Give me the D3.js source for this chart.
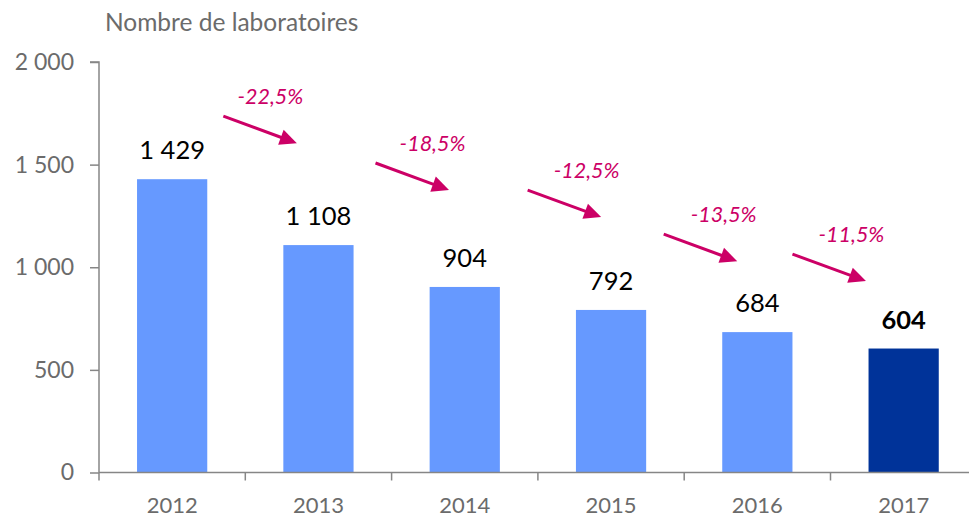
<!DOCTYPE html>
<html>
<head>
<meta charset="utf-8">
<script src="https://cdn.jsdelivr.net/npm/d3@7"></script>
<style>
  body { margin: 0; background: #fff; }
  svg text { font-family: Lato, 'Open Sans', sans-serif; }
</style>
</head>
<body>
<svg id="viz"></svg>
<script>
const years = ['2012', '2013', '2014', '2015', '2016', '2017'];
const labs = [1429, 1108, 904, 792, 684, 604];
const changes = ['-22,5%', '-18,5%', '-12,5%', '-13,5%', '-11,5%'];
const yTicks = [0, 500, 1000, 1500, 2000];

// where each arrow starts: fraction of a band after the year, and height in units
const arrowFrac = [0.85, 0.89, 0.93, 0.86, 0.74];
const arrowLevel = [1736, 1508, 1376, 1161, 1064];
const labelShift = [47, 57, 59, 60, 59];

const width = 969;
const height = 516;
const margin = { top: 62, right: 0, bottom: 43.5, left: 99 };
const step = 146.3;

const fmt = (v) => d3.format(',')(v).replace(/,/g, ' ');

const svg = d3.select('#viz').attr('width', width).attr('height', height);

const x = d3
  .scaleBand()
  .domain(years)
  .range([margin.left, margin.left + step * years.length])
  .paddingInner(0.52)
  .paddingOuter(0.26);

const y = d3
  .scaleLinear()
  .domain([0, 2000])
  .range([height - margin.bottom, margin.top]);

const axisColor = '#868686';
const textColor = '#6b6b6b';

// title
svg
  .append('text')
  .attr('x', 105)
  .attr('y', 31)
  .attr('fill', textColor)
  .style('font-size', '24.5px')
  .text('Nombre de laboratoires');

// y axis
const yAxis = svg
  .append('g')
  .attr('transform', 'translate(' + margin.left + ',0)')
  .call(d3.axisLeft(y).tickValues(yTicks).tickSize(9).tickPadding(16).tickFormat(fmt));
yAxis.select('.domain').attr('stroke', axisColor).attr('stroke-width', 1.5).attr('d', 'M-9,' + y(2000) + 'H0V' + y(0));
yAxis.selectAll('.tick line').attr('stroke', axisColor).attr('stroke-width', 1.5);
yAxis.selectAll('.tick text').attr('fill', textColor).style('font-size', '23px').style('font-family', 'Lato, sans-serif');

// bars
svg
  .append('g')
  .selectAll('rect')
  .data(labs)
  .join('rect')
  .attr('x', (d, i) => x(years[i]))
  .attr('width', x.bandwidth())
  .attr('y', (d) => y(d))
  .attr('height', (d) => y(0) - y(d))
  .attr('fill', (d, i) => (i === labs.length - 1 ? '#003399' : '#6699FF'));

// value labels
svg
  .append('g')
  .selectAll('text')
  .data(labs)
  .join('text')
  .attr('x', (d, i) => x(years[i]) + x.bandwidth() / 2)
  .attr('y', (d) => y(d) - 20)
  .attr('text-anchor', 'middle')
  .attr('fill', '#000')
  .style('font-size', '25.5px')
  .style('font-weight', (d, i) => (i === labs.length - 1 ? 'bold' : 'normal'))
  .text(fmt);

// x axis
const xAxisY = y(0);
svg
  .append('line')
  .attr('x1', margin.left)
  .attr('x2', width)
  .attr('y1', xAxisY)
  .attr('y2', xAxisY)
  .attr('stroke', axisColor)
  .attr('stroke-width', 1.5);

svg
  .append('g')
  .selectAll('line')
  .data(years)
  .join('line')
  .attr('x1', (d) => x(d) - x.step() * 0.26)
  .attr('x2', (d) => x(d) - x.step() * 0.26)
  .attr('y1', xAxisY)
  .attr('y2', xAxisY + 8)
  .attr('stroke', axisColor)
  .attr('stroke-width', 1.5);

svg
  .append('g')
  .selectAll('text')
  .data(years)
  .join('text')
  .attr('x', (d) => x(d) + x.bandwidth() / 2)
  .attr('y', xAxisY + 40)
  .attr('text-anchor', 'middle')
  .attr('fill', textColor)
  .style('font-size', '22px')
  .text((d) => d);

// change arrows
const pink = '#CC0066';
const arrows = changes.map((c, i) => {
  const x0 = x(years[i]) - x.step() * 0.26 + arrowFrac[i] * x.step();
  const y0 = y(arrowLevel[i]);
  return { label: c, shift: labelShift[i], x0: x0, y0: y0, x1: x0 + 73.5, y1: y0 + 27 };
});

const arrowG = svg.append('g').selectAll('g').data(arrows).join('g');

arrowG.each(function (d) {
  const g = d3.select(this);
  const ang = Math.atan2(d.y1 - d.y0, d.x1 - d.x0);
  const headLen = 17;
  const headW = 8;
  const bx = d.x1 - headLen * Math.cos(ang);
  const by = d.y1 - headLen * Math.sin(ang);
  g.append('line')
    .attr('x1', d.x0)
    .attr('y1', d.y0)
    .attr('x2', bx + 2 * Math.cos(ang))
    .attr('y2', by + 2 * Math.sin(ang))
    .attr('stroke', pink)
    .attr('stroke-width', 3);
  const px = -Math.sin(ang);
  const py = Math.cos(ang);
  g.append('path')
    .attr('d', 'M' + d.x1 + ',' + d.y1 +
      'L' + (bx + px * headW) + ',' + (by + py * headW) +
      'L' + (bx - px * headW) + ',' + (by - py * headW) + 'Z')
    .attr('fill', pink);
  g.append('text')
    .attr('x', d.x0 + d.shift)
    .attr('y', d.y0 - 12)
    .attr('text-anchor', 'middle')
    .attr('fill', pink)
    .style('font-size', '21.5px')
    .style('font-style', 'italic')
    .text(d.label);
});
</script>
</body>
</html>
